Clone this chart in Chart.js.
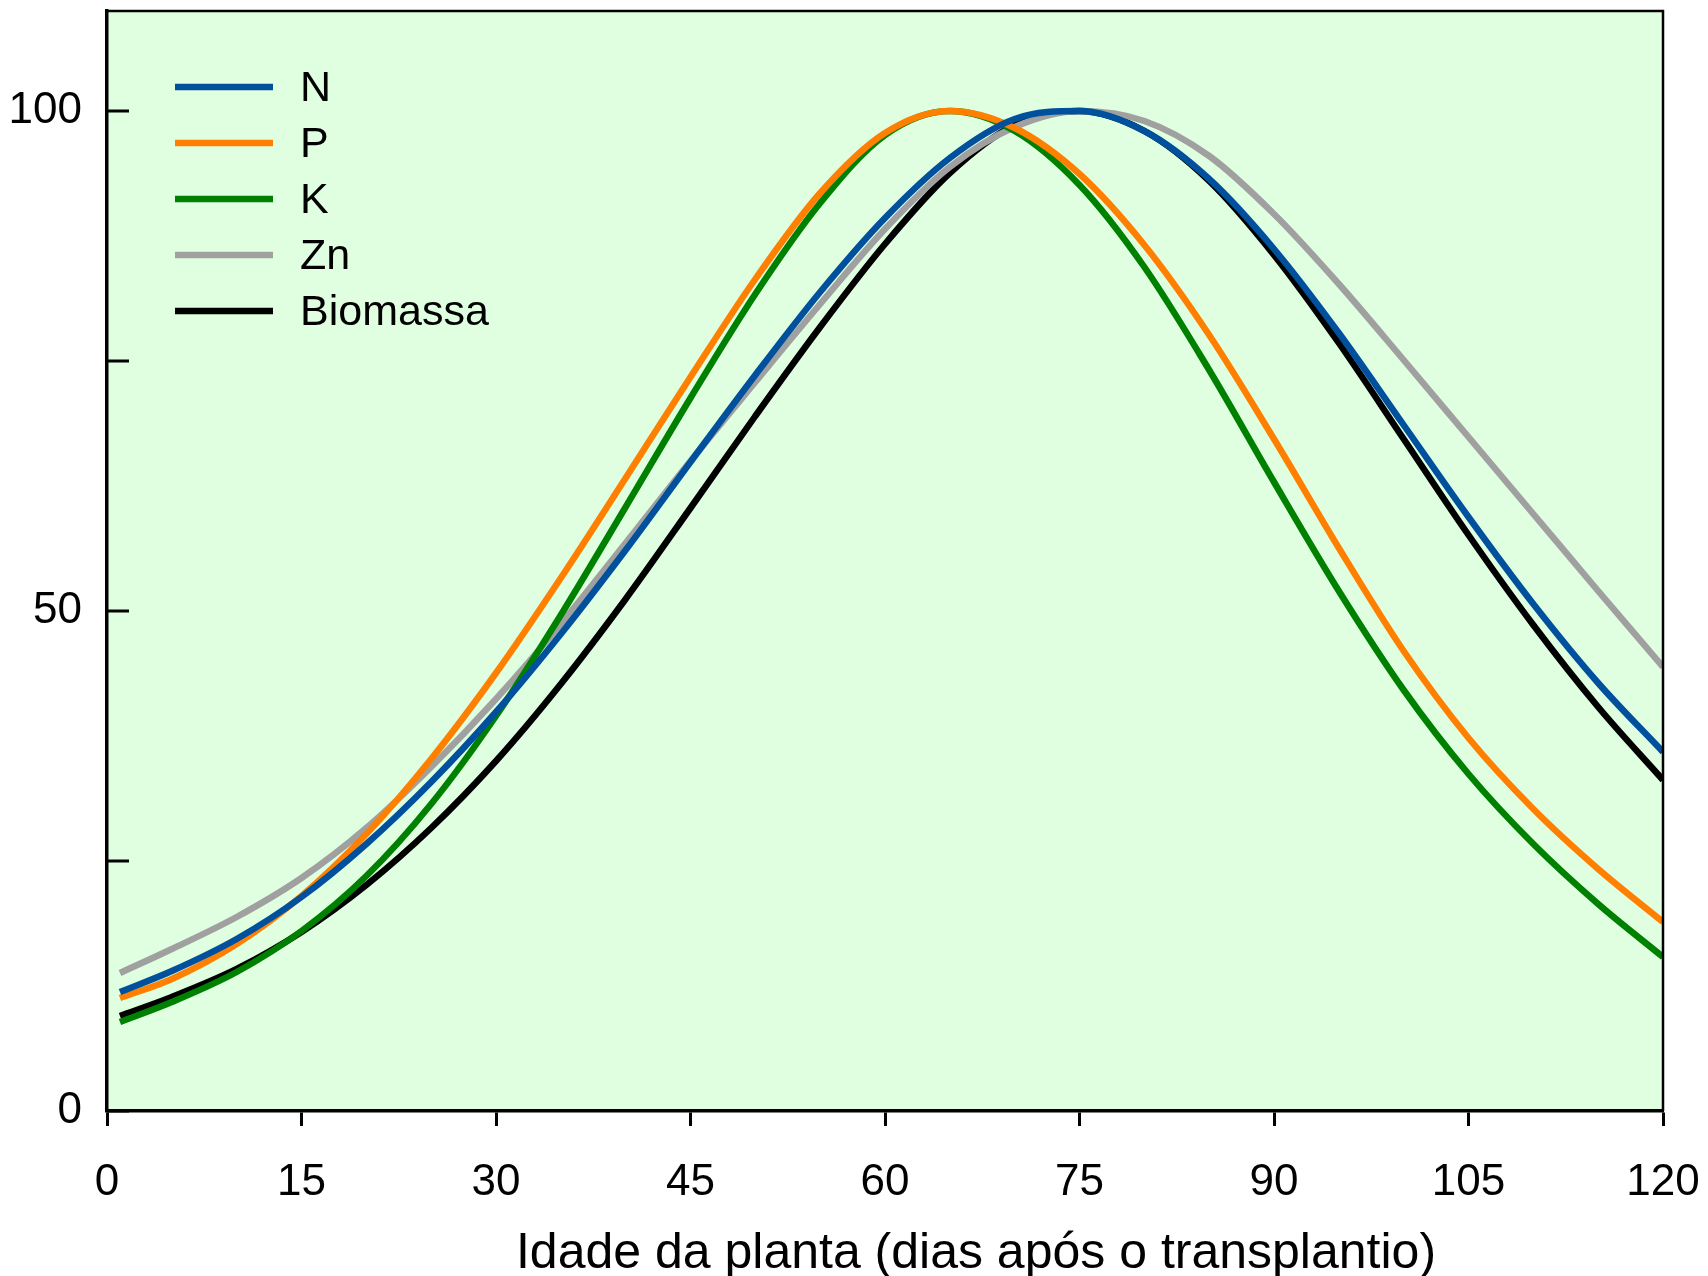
<!DOCTYPE html>
<html>
<head>
<meta charset="utf-8">
<title>Idade da planta</title>
<script src="https://cdn.jsdelivr.net/npm/chart.js@4.4.1/dist/chart.umd.min.js"></script>
<style>
    html, body { margin: 0; padding: 0; background: #ffffff; }
    #chart { display: block; }
</style>
</head>
<body>
<canvas id="chart" width="1708" height="1276"></canvas>
<script>
// days after transplanting
const days = [1, 5, 10, 15, 20, 25, 30, 35, 40, 45, 50, 55, 60, 65, 70, 75, 80, 85, 90, 95, 100, 105, 110, 115, 120];

// relative accumulation (% of maximum)
const nValues = [11.9, 14.0, 17.2, 21.4, 26.7, 32.9, 39.9, 47.7, 56.1, 64.9, 73.6, 81.9, 89.3, 95.3, 99.2, 100, 98.0, 93.2, 86.2, 77.8, 68.6, 59.4, 50.7, 42.8, 35.9];
const pValues = [11.3, 13.2, 16.7, 21.5, 27.7, 35.2, 43.8, 53.3, 63.3, 73.4, 83.2, 91.8, 97.8, 100, 98.3, 93.7, 86.6, 77.6, 67.2, 56.3, 46.0, 37.3, 30.2, 24.2, 18.9];
const kValues = [8.9, 10.9, 13.9, 18.0, 23.5, 30.7, 39.5, 49.6, 60.4, 71.3, 81.7, 90.8, 97.6, 100, 98.0, 92.6, 84.4, 74.1, 62.9, 52.0, 42.1, 33.7, 26.7, 20.7, 15.4];
const znValues = [13.8, 16.2, 19.4, 23.3, 28.3, 34.4, 41.2, 48.7, 56.8, 65.0, 72.9, 80.7, 88.2, 94.4, 98.4, 100, 99.0, 95.5, 89.7, 82.7, 75.1, 67.4, 59.7, 52.0, 44.4];
const biomassaValues = [9.5, 11.4, 14.2, 17.9, 22.6, 28.3, 35.0, 42.7, 51.2, 60.3, 69.5, 78.4, 86.7, 93.8, 98.6, 100, 98.0, 93.0, 85.6, 76.8, 67.2, 57.6, 48.6, 40.4, 33.1];

const seriesNames = ['N', 'P', 'K', 'Zn', 'Biomassa'];
const seriesColors = ['#00509e', '#ff8000', '#008000', '#a0a0a0', '#000000'];

const xTickValues = [0, 15, 30, 45, 60, 75, 90, 105, 120];
const yTickValues = [0, 25, 50, 75, 100];
const yLabelledTicks = [0, 50, 100];
const xTitle = 'Idade da planta (dias após o transplantio)';

const fontFamily = '"Liberation Sans", Arial, Helvetica, sans-serif';

function toPoints(values) {
    return values.map((v, i) => ({ x: days[i], y: v }));
}

const allValues = [nValues, pValues, kValues, znValues, biomassaValues];

const datasets = allValues.map((values, i) => ({
    label: seriesNames[i],
    data: toPoints(values),
    borderColor: seriesColors[i],
    backgroundColor: seriesColors[i],
    borderWidth: 6.5,
    pointRadius: 0,
    fill: false,
    cubicInterpolationMode: 'monotone'
}));

// background, frame, inward y ticks, legend and axis title
const framePlugin = {
    id: 'framePlugin',
    beforeDraw(chart) {
        const { ctx, chartArea } = chart;
        ctx.save();
        ctx.fillStyle = '#e0ffe0';
        ctx.fillRect(chartArea.left, chartArea.top, chartArea.right - chartArea.left, chartArea.bottom - chartArea.top);
        ctx.restore();
    },
    afterDraw(chart) {
        const { ctx, chartArea } = chart;
        const yScale = chart.scales.y;
        ctx.save();

        // top and right edges of the box
        ctx.strokeStyle = '#000';
        ctx.lineWidth = 2.5;
        ctx.beginPath();
        ctx.moveTo(chartArea.left, chartArea.top);
        ctx.lineTo(chartArea.right, chartArea.top);
        ctx.lineTo(chartArea.right, chartArea.bottom);
        ctx.stroke();

        // y ticks point into the plot
        ctx.lineWidth = 3;
        yTickValues.forEach(v => {
            const y = yScale.getPixelForValue(v);
            ctx.beginPath();
            ctx.moveTo(chartArea.left, y);
            ctx.lineTo(chartArea.left + 22, y);
            ctx.stroke();
        });

        // legend
        const lx = chartArea.left + 68;
        const ly = chartArea.top + 76;
        ctx.font = '43px ' + fontFamily;
        ctx.textBaseline = 'middle';
        ctx.textAlign = 'left';
        chart.data.datasets.forEach((ds, i) => {
            const y = ly + i * 56;
            ctx.strokeStyle = ds.borderColor;
            ctx.lineWidth = 6.5;
            ctx.beginPath();
            ctx.moveTo(lx, y);
            ctx.lineTo(lx + 98, y);
            ctx.stroke();
            ctx.fillStyle = '#000';
            ctx.fillText(ds.label, lx + 125, y + 2);
        });

        // x axis title
        ctx.font = '50px ' + fontFamily;
        ctx.textAlign = 'center';
        ctx.textBaseline = 'alphabetic';
        ctx.fillStyle = '#000';
        ctx.fillText(xTitle, 976, 1268);

        ctx.restore();
    }
};

document.addEventListener('DOMContentLoaded', function () {
    const ctx = document.getElementById('chart').getContext('2d');

    new Chart(ctx, {
        type: 'line',
        data: { datasets: datasets },
        plugins: [framePlugin],
        options: {
            responsive: false,
            animation: false,
            devicePixelRatio: 1,
            layout: {
                padding: { top: 11, right: 45, left: 0, bottom: 0 }
            },
            plugins: {
                legend: { display: false },
                tooltip: { enabled: false }
            },
            scales: {
                x: {
                    type: 'linear',
                    min: 0,
                    max: 120,
                    afterBuildTicks: scale => {
                        scale.ticks = xTickValues.map(v => ({ value: v }));
                    },
                    afterFit: scale => {
                        scale.height = 165;
                        scale.paddingLeft = 0;
                        scale.paddingRight = 0;
                    },
                    grid: {
                        drawOnChartArea: false,
                        drawTicks: true,
                        tickLength: 15,
                        tickWidth: 3,
                        tickColor: '#000'
                    },
                    border: { display: true, color: '#000', width: 3.5 },
                    ticks: {
                        color: '#000',
                        padding: 30,
                        maxRotation: 0,
                        font: { family: fontFamily, size: 44 }
                    }
                },
                y: {
                    type: 'linear',
                    min: 0,
                    max: 110,
                    afterBuildTicks: scale => {
                        scale.ticks = yTickValues.map(v => ({ value: v }));
                    },
                    afterFit: scale => {
                        scale.width = 107;
                        scale.paddingTop = 0;
                        scale.paddingBottom = 0;
                    },
                    grid: { display: false, drawTicks: false },
                    border: { display: true, color: '#000', width: 3.5 },
                    ticks: {
                        color: '#000',
                        padding: 25,
                        font: { family: fontFamily, size: 44 },
                        callback: v => yLabelledTicks.includes(v) ? String(v) : ''
                    }
                }
            }
        }
    });
});
</script>
</body>
</html>
